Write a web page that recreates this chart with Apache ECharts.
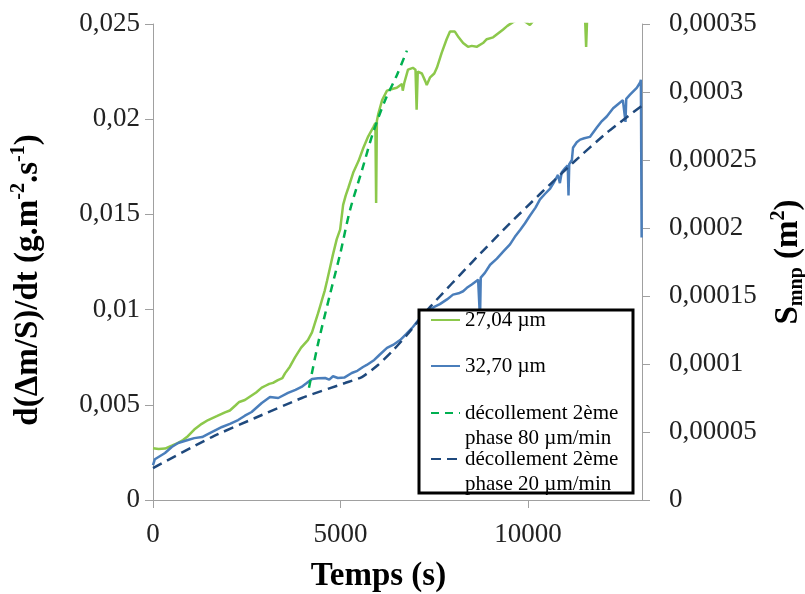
<!DOCTYPE html>
<html>
<head>
<meta charset="utf-8">
<script src="https://cdn.jsdelivr.net/npm/echarts@6/dist/echarts.min.js"></script>
<style>html,body{margin:0;padding:0;background:#fff}#c{width:805px;height:594px}</style>
</head>
<body>
<div id="c"></div>
<script>
// ---- data (time in s) ----
const xTicks = [0, 5000, 10000];
const names = ['27,04 µm', '32,70 µm', 'décollement 2ème\nphase 80 µm/min', 'décollement 2ème\nphase 20 µm/min'];

// 27,04 µm  (left axis, g.m-2.s-1)
const greenT = [0,150,320,500,670,800,930,1100,1300,1470,1700,1920,2050,2190,2300,2450,2600,2750,2900,3000,3100,3200,3330,3450,3520,3650,3790,3950,4130,4240,4320,4400,4460,4520,4580,4640,4720,4800,4900,4990,5070,5140,5210,5340,5480,5610,5740,5880,5930,5950,5970,6010,6110,6240,6400,6500,6640,6660,6700,6800,6930,7000,7030,7060,7170,7260,7300,7390,7500,7570,7700,7830,7920,7970,8050,8150,8270,8400,8500,8630,8800,8900,9070,9200,9330,9450,9600,9800,10050,10200,10500,11000,11500,11550,11600,12000,12500,13000];
const greenV = [0.00272,0.00268,0.00270,0.00285,0.00300,0.00315,0.00335,0.00370,0.00400,0.00420,0.00440,0.00460,0.00470,0.00495,0.00515,0.00525,0.00545,0.00565,0.00590,0.00600,0.00610,0.00615,0.00630,0.00640,0.00665,0.00700,0.00750,0.00800,0.00840,0.00880,0.00930,0.00980,0.01020,0.01060,0.01100,0.01150,0.01220,0.01290,0.01370,0.01420,0.01550,0.01600,0.01640,0.01720,0.01780,0.01850,0.01910,0.01960,0.01980,0.01560,0.01990,0.02030,0.02100,0.02150,0.02160,0.02165,0.02185,0.02150,0.02190,0.02260,0.02270,0.02260,0.02050,0.02250,0.02240,0.02200,0.02180,0.02220,0.02240,0.02270,0.02350,0.02420,0.02460,0.02465,0.02460,0.02430,0.02400,0.02380,0.02385,0.02380,0.02400,0.02420,0.02430,0.02450,0.02470,0.02490,0.02510,0.02530,0.02495,0.02530,0.02580,0.02620,0.02650,0.02380,0.02660,0.02700,0.02740,0.02780];

// 32,70 µm  (right axis, m2)
const blueT = [0,50,320,500,670,930,1100,1310,1500,1840,2050,2270,2450,2630,2900,3120,3340,3600,3800,3960,4100,4240,4400,4590,4700,4800,4930,5100,5300,5450,5600,5700,5900,6050,6240,6400,6590,6750,6930,7100,7250,7390,7500,7650,7840,8000,8150,8270,8370,8500,8670,8700,8720,8740,8850,8990,9170,9350,9520,9650,9790,9920,10050,10200,10320,10450,10590,10700,10800,10850,10900,10990,11060,11080,11100,11170,11200,11300,11390,11500,11650,11840,11950,12100,12270,12400,12530,12580,12600,12620,12720,12900,12990,13010,13030];
const blueV = [2.57e-5,3.0e-5,3.46e-5,3.9e-5,4.19e-5,4.41e-5,4.55e-5,4.63e-5,4.9e-5,5.37e-5,5.6e-5,5.88e-5,6.2e-5,6.47e-5,7.13e-5,7.57e-5,7.5e-5,7.87e-5,8.1e-5,8.31e-5,8.6e-5,8.9e-5,8.95e-5,8.97e-5,8.85e-5,9.1e-5,8.97e-5,9.0e-5,9.34e-5,9.5e-5,9.78e-5,9.93e-5,1.03e-4,1.07e-4,1.118e-4,1.14e-4,1.176e-4,1.22e-4,1.272e-4,1.33e-4,1.37e-4,1.40e-4,1.42e-4,1.44e-4,1.475e-4,1.51e-4,1.52e-4,1.535e-4,1.56e-4,1.585e-4,1.62e-4,1.625e-4,1.33e-4,1.635e-4,1.67e-4,1.73e-4,1.775e-4,1.83e-4,1.88e-4,1.935e-4,1.985e-4,2.035e-4,2.09e-4,2.15e-4,2.21e-4,2.25e-4,2.29e-4,2.34e-4,2.39e-4,2.33e-4,2.41e-4,2.44e-4,2.46e-4,2.24e-4,2.47e-4,2.50e-4,2.59e-4,2.63e-4,2.65e-4,2.66e-4,2.67e-4,2.74e-4,2.78e-4,2.82e-4,2.88e-4,2.91e-4,2.94e-4,2.94e-4,2.78e-4,2.95e-4,2.98e-4,3.03e-4,3.07e-4,3.09e-4,1.93e-4];

// décollement 2ème phase 80 µm/min (left axis)
const fit80T = [4160,4400,4720,5000,5250,5570,5870,6190,6500,6770];
const fit80V = [0.0059,0.0082,0.0108,0.0130,0.0152,0.0173,0.0193,0.0210,0.0223,0.0236];

// décollement 2ème phase 20 µm/min (right axis)
const fit20T = [0,1570,2720,3970,5120,5570,6000,6400,6770,7390,8530,9430,10320,11200,12100,13040];
const fit20V = [2.35e-5,4.63e-5,6.03e-5,7.5e-5,8.6e-5,9.04e-5,9.93e-5,1.10e-4,1.213e-4,1.42e-4,1.755e-4,2.01e-4,2.25e-4,2.48e-4,2.70e-4,2.90e-4];

const zip = (a, b) => a.map((t, i) => [t, b[i]]);
const FONT = 'Liberation Serif';
const fmt = v => parseFloat(Number(v).toPrecision(10)).toString().replace('.', ',');
const axisCol = '#a0a0a0';

const chart = echarts.init(document.getElementById('c'));
const legendBase = {
  orient: 'vertical', left: 430, padding: 0, itemWidth: 29, itemHeight: 14,
  selectedMode: false,
  itemStyle: { opacity: 0 },
  textStyle: { fontFamily: FONT, fontSize: 21, lineHeight: 25, color: '#000' }
};
const leadBlank = n => '\n' + n;

chart.setOption({
  animation: false,
  grid: { left: 153, right: 163, top: 24, bottom: 94, containLabel: false, outerBoundsMode: 'none' },
  xAxis: {
    type: 'value', min: 0, max: 13040, interval: 5000,
    name: 'Temps (s)', nameLocation: 'middle', nameGap: 60,
    nameTextStyle: { fontFamily: FONT, fontWeight: 'bold', fontSize: 33, color: '#000', padding: [0, 38, 0, 0] },
    axisLine: { lineStyle: { color: axisCol } },
    axisTick: { length: 8, lineStyle: { color: axisCol } },
    axisLabel: { fontFamily: FONT, fontSize: 27, color: '#222', margin: 21, showMaxLabel: false, formatter: fmt },
    splitLine: { show: false }
  },
  yAxis: [{
    type: 'value', min: 0, max: 0.025, interval: 0.005, position: 'left',
    name: '{b|d(Δm/S)/dt (g.m}{sup|-2}{b|.s}{sup|-1}{b|)}', nameLocation: 'middle', nameGap: 106,
    nameTextStyle: {
      padding: [0, 36, 0, 0],
      rich: {
        b: { fontFamily: FONT, fontWeight: 'bold', fontSize: 33, lineHeight: 38, color: '#000' },
        sup: { fontFamily: FONT, fontWeight: 'bold', fontSize: 20, lineHeight: 20, verticalAlign: 'top', color: '#000' }
      }
    },
    axisLine: { show: true, lineStyle: { color: axisCol } },
    axisTick: { show: true, length: 8, lineStyle: { color: axisCol } },
    axisLabel: { fontFamily: FONT, fontSize: 27, color: '#222', margin: 13, formatter: fmt },
    splitLine: { show: false }
  }, {
    type: 'value', min: 0, max: 0.00035, interval: 0.00005, position: 'right',
    name: '{b|S}{sub|mnp}{b| (m}{sup|2}{b|)}', nameLocation: 'middle', nameGap: 127,
    nameTextStyle: {
      rich: {
        b: { fontFamily: FONT, fontWeight: 'bold', fontSize: 33, lineHeight: 38, color: '#000' },
        sub: { fontFamily: FONT, fontWeight: 'bold', fontSize: 20, lineHeight: 20, verticalAlign: 'bottom', color: '#000' },
        sup: { fontFamily: FONT, fontWeight: 'bold', fontSize: 20, lineHeight: 20, verticalAlign: 'top', color: '#000' }
      }
    },
    axisLine: { show: true, lineStyle: { color: axisCol } },
    axisTick: { show: true, length: 8, lineStyle: { color: axisCol } },
    axisLabel: { fontFamily: FONT, fontSize: 27, color: '#222', margin: 27, formatter: fmt },
    splitLine: { show: false }
  }],
  legend: [
    Object.assign({}, legendBase, { data: [names[0]], top: 307.5 }),
    Object.assign({}, legendBase, { data: [names[1]], top: 353.5 }),
    Object.assign({}, legendBase, { data: [names[2]], top: 375.5, formatter: leadBlank }),
    Object.assign({}, legendBase, { data: [names[3]], top: 421.5, formatter: leadBlank })
  ],
  graphic: [{
    type: 'rect', z: 3, silent: true,
    shape: { x: 419, y: 310, width: 214, height: 183 },
    style: { fill: '#fff', stroke: '#000', lineWidth: 3 }
  }],
  series: [
    { name: names[0], type: 'line', yAxisIndex: 0, data: zip(greenT, greenV), symbol: 'none', clip: true,
      lineStyle: { color: '#8cc84b', width: 2.5 }, itemStyle: { color: '#8cc84b' }, z: 2 },
    { name: names[1], type: 'line', yAxisIndex: 1, data: zip(blueT, blueV), symbol: 'none', clip: true,
      lineStyle: { color: '#4a7ebb', width: 2.5 }, itemStyle: { color: '#4a7ebb' }, z: 2 },
    { name: names[2], type: 'line', yAxisIndex: 0, data: zip(fit80T, fit80V), symbol: 'none', smooth: 0.3,
      lineStyle: { color: '#00b050', width: 2.5, type: [8, 6] }, itemStyle: { color: '#00b050' }, z: 2 },
    { name: names[3], type: 'line', yAxisIndex: 1, data: zip(fit20T, fit20V), symbol: 'none', smooth: 0.2,
      lineStyle: { color: '#1f497d', width: 2.5, type: [10, 6] }, itemStyle: { color: '#1f497d' }, z: 2 }
  ]
});
</script>
</body>
</html>
